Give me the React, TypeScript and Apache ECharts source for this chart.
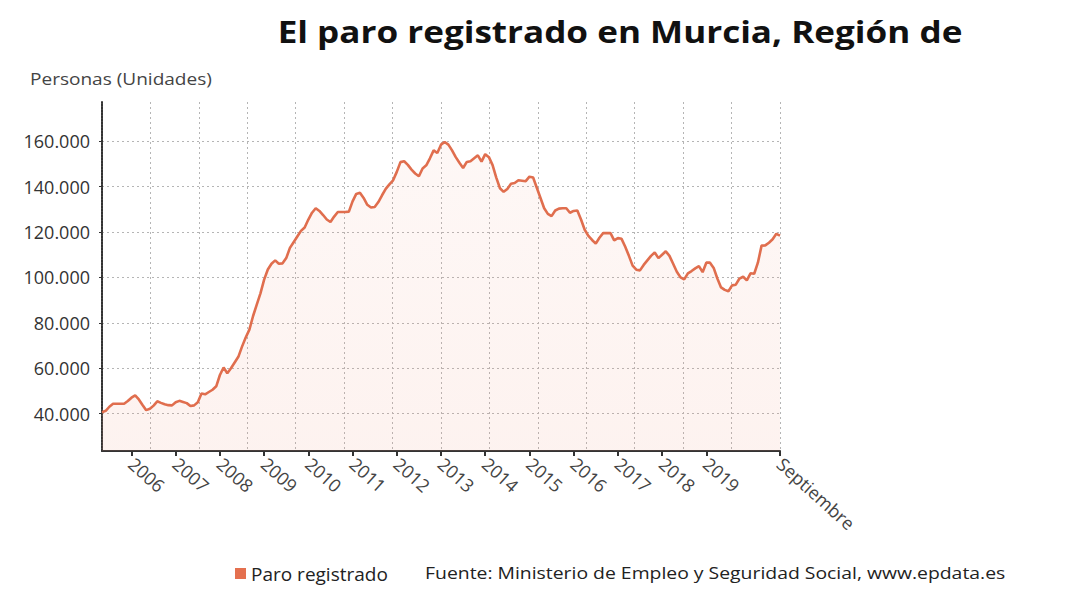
import React, { useEffect, useRef } from "react";
import * as echarts from "echarts";

// Monthly registered unemployment, Murcia (persons)
const startYear = 2005;
const startMonth = 5; // May 2005
const paro2005 = [40600, 41200, 43000, 44300, 44300, 44300, 44300, 45500];
const paro2006 = [47000, 48000, 46200, 43800, 41500, 42100, 43500, 45400, 44700, 44100, 43700, 43600];
const paro2007 = [45000, 45600, 45100, 44600, 43300, 43600, 45000, 48800, 48500, 49500, 50500, 52000];
const paro2008 = [57000, 60300, 57800, 60000, 62500, 65000, 69500, 73500, 77000, 83000, 88000, 93000];
const paro2009 = [99000, 103500, 106000, 107500, 106000, 106200, 108500, 113000, 115500, 118000, 120500, 122000];
const paro2010 = [125500, 128500, 130500, 129300, 127500, 125500, 124400, 126800, 128800, 128800, 128800, 129000];
const paro2011 = [133500, 136800, 137300, 135000, 132000, 130800, 131000, 133200, 136200, 139000, 141000, 142800];
const paro2012 = [146500, 150800, 151200, 149600, 147500, 145800, 144600, 148000, 149400, 152500, 156000, 154800];
const paro2013 = [158500, 159700, 158500, 156000, 153000, 150500, 148200, 150900, 151200, 152500, 153800, 151000];
const paro2014 = [154300, 153000, 149500, 144000, 139300, 137700, 139000, 141300, 141600, 142800, 142600, 142400];
const paro2015 = [144400, 144000, 139500, 135000, 130500, 128000, 127000, 129500, 130300, 130500, 130500, 128500];
const paro2016 = [129300, 129500, 125500, 121000, 118300, 116500, 114900, 117500, 119500, 119500, 119500, 116300];
const paro2017 = [117300, 117000, 113500, 109500, 105200, 103400, 103100, 105500, 107500, 109500, 111000, 108500];
const paro2018 = [110000, 111500, 109500, 106000, 102500, 100000, 99100, 101800, 102800, 104000, 105000, 102300];
const paro2019 = [106500, 106500, 104200, 99500, 95600, 94500, 93900, 96500, 96800, 99500, 100300, 98700];
const paro2020 = [101800, 101600, 106500, 114000, 114100, 115300, 116800, 119200, 118400];

const yearTickLabels = ["2006", "2007", "2008", "2009", "2010", "2011", "2012", "2013", "2014", "2015", "2016", "2017", "2018", "2019"];
const lastTickLabel = "Septiembre";
const yTickValues = [40000, 60000, 80000, 100000, 120000, 140000, 160000];

const title = "El paro registrado en Murcia, Región de";
const unitLabel = "Personas (Unidades)";
const seriesName = "Paro registrado";
const sourceText = "Fuente: Ministerio de Empleo y Seguridad Social, www.epdata.es";

const values = [
  ...paro2005, ...paro2006, ...paro2007, ...paro2008, ...paro2009, ...paro2010,
  ...paro2011, ...paro2012, ...paro2013, ...paro2014, ...paro2015, ...paro2016,
  ...paro2017, ...paro2018, ...paro2019, ...paro2020,
];

const categories = values.map((_, i) => {
  const m0 = startMonth - 1 + i;
  const y = startYear + Math.floor(m0 / 12);
  const m = (m0 % 12) + 1;
  return `${y}-${m < 10 ? "0" + m : m}`;
});

const FONT = "'Open Sans', 'Noto Sans', sans-serif";
const lastIdx = categories.length - 1;

function isTick(idx: number, val: string) {
  if (idx === lastIdx) return true;
  return val.endsWith("-01") && yearTickLabels.includes(val.slice(0, 4));
}

export default function App() {
  const ref = useRef<HTMLDivElement>(null);
  useEffect(() => {
    if (!ref.current) return;
    const chart = echarts.init(ref.current, null, { renderer: "svg" });
    chart.setOption({
      animation: false,
      textStyle: { fontFamily: FONT },
      grid: { left: 102, right: 300, top: 102, bottom: 154, containLabel: false },
      legend: {
        left: 230,
        top: 559,
        icon: "rect",
        itemWidth: 11,
        itemHeight: 11,
        itemGap: 6,
        textStyle: { fontSize: 19, color: "#222", fontFamily: FONT },
        data: [seriesName],
      },
      xAxis: [
        {
          type: "category",
          data: categories,
          boundaryGap: false,
          axisLine: { show: true, lineStyle: { color: "#333", width: 2 } },
          axisTick: {
            show: true,
            length: 5,
            interval: (idx: number, val: string) => isTick(idx, val),
            lineStyle: { color: "#333", width: 2 },
          },
          axisLabel: {
            interval: (idx: number, val: string) => isTick(idx, val),
            rotate: -42,
            margin: 10,
            fontSize: 18,
            color: "#444",
            fontFamily: FONT,
            formatter: (val: string, idx: number) => {
              if (idx === lastIdx) return lastTickLabel;
              return val.slice(0, 4);
            },
          },
          splitLine: { show: false },
        },
        {
          type: "value",
          position: "top",
          min: 0,
          max: 14,
          interval: 1,
          axisLine: { show: false },
          axisTick: { show: false },
          axisLabel: { show: false },
          splitLine: { show: true, lineStyle: { color: "#b5b5b5", type: [2, 3], width: 1 } },
        },
      ],
      yAxis: {
        type: "value",
        min: 23500,
        max: 177300,
        minInterval: 20000,
        maxInterval: 20000,
        splitNumber: 8,
        axisLine: { show: true, lineStyle: { color: "#333", width: 2, type: [2, 1] } },
        axisTick: { show: true, length: 3, lineStyle: { color: "#333" } },
        axisLabel: {
          fontSize: 18,
          color: "#333",
          margin: 12,
          fontFamily: FONT,
          showMinLabel: false,
          showMaxLabel: false,
          formatter: (v: number) =>
            yTickValues.includes(v) ? String(v).replace(/\B(?=(\d{3})+(?!\d))/g, ".") : "",
        },
        splitLine: {
          show: true,
          showMinLine: false,
          showMaxLine: false,
          lineStyle: { color: "#b5b5b5", type: [2, 3], width: 1 },
        },
      },
      series: [
        {
          name: seriesName,
          type: "line",
          data: values,
          showSymbol: false,
          symbol: "none",
          color: "#e4704f",
          lineStyle: { color: "#e06e4e", width: 2.6 },
          areaStyle: {
            color: new echarts.graphic.LinearGradient(0, 0, 0, 1, [
              { offset: 0, color: "rgba(240,150,125,0.10)" },
              { offset: 1, color: "rgba(240,150,125,0.17)" },
            ]),
            origin: "start",
          },
        },
      ],
      graphic: [
        {
          type: "text",
          x: 620,
          y: 32,
          scaleX: 1.17,
          style: {
            text: title,
            font: `bold 30px ${FONT}`,
            fill: "#111",
            textAlign: "center",
            textVerticalAlign: "middle",
          },
        },
        {
          type: "text",
          x: 30,
          y: 79,
          scaleX: 1.19,
          style: {
            text: unitLabel,
            font: `16px ${FONT}`,
            fill: "#444",
            textAlign: "left",
            textVerticalAlign: "middle",
          },
        },
        {
          type: "text",
          x: 425,
          y: 572,
          scaleX: 1.14,
          style: {
            text: sourceText,
            font: `17px ${FONT}`,
            fill: "#222",
            textAlign: "left",
            textVerticalAlign: "middle",
          },
        },
      ],
    });
    return () => chart.dispose();
  }, []);
  return (
    <div
      ref={ref}
      style={{ position: "fixed", left: 0, top: 0, width: 1080, height: 605, background: "#fff" }}
    />
  );
}
